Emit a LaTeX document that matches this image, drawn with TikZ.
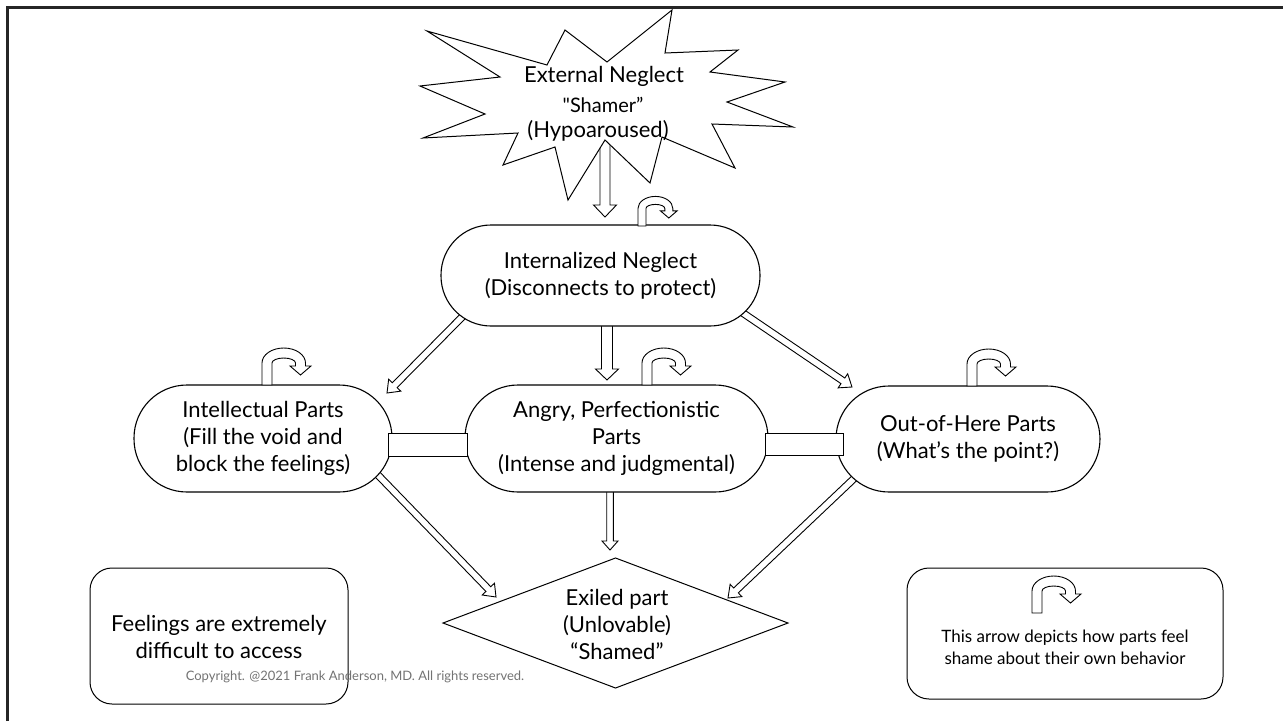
\documentclass[tikz,border=0pt]{standalone}
\usepackage{fontspec}
\setmainfont{Lato}
\newfontfamily\latoraw{Lato}[Ligatures=TeXOff]
\usetikzlibrary{calc}
\newcommand\hollowarrow[5]{%
  \coordinate (hh) at ($(#5)!#3pt!(#4)$);
  \draw[harrow] ($(#4)!#1pt!90:(#5)$) -- ($(hh)!#1pt!90:(#5)$) -- ($(hh)!#2pt!90:(#5)$) -- (#5)
     -- ($(hh)!#2pt!-90:(#5)$) -- ($(hh)!#1pt!-90:(#5)$) -- ($(#4)!#1pt!-90:(#5)$) -- cycle;}
\begin{document}
\begin{tikzpicture}[x=1pt,y=-1pt,
  stad/.style={draw, fill=white, line width=1.1pt, rounded corners=#1, inner sep=0pt, align=center,
     font=\fontsize{22}{27}\selectfont},
  harrow/.style={draw, fill=white, line width=0.9pt, line join=miter},
  bar/.style={draw, fill=white, line width=1pt, inner sep=0pt},
  legendbox/.style={draw, line width=1pt, rounded corners=22pt, inner sep=0pt},
  txt/.style={align=center, inner sep=0pt, font=\fontsize{22}{27}\selectfont},
  uarr/.pic={\draw[fill=white, line width=0.9pt, line join=miter]
     (0,0) -- (0,-22) arc[start angle=180, end angle=360, x radius=21.75, y radius=15]
     -- (43.5,-19) -- (49,-19) -- (38.5,-10) -- (28,-19) -- (33.5,-19) -- (33.5,-22)
     arc[start angle=0, end angle=-180, x radius=11.75, y radius=5] -- (10,0) -- cycle;}
]
\useasboundingbox (0,0) rectangle (1283,721);
\fill[white] (0,0) rectangle (1283,721);
\draw[line width=3pt, black!85] (7,721) -- (7,7) -- (1283,7);

% arrow end points
\coordinate (a1s) at (605,135);  \coordinate (a1e) at (605,217);
\coordinate (a2s) at (469,310);  \coordinate (a2e) at (387,393);
\coordinate (a3s) at (607,318);  \coordinate (a3e) at (607,380);
\coordinate (a4s) at (737,309);  \coordinate (a4e) at (852,387);
\coordinate (a5s) at (376,473);  \coordinate (a5e) at (496,597);
\coordinate (a6s) at (610,485);  \coordinate (a6e) at (610,550);
\coordinate (a7s) at (862,471);  \coordinate (a7e) at (728,598);

\hollowarrow{5}{11.5}{12}{a1s}{a1e}
\hollowarrow{3.4}{8.5}{11}{a2s}{a2e}
\hollowarrow{5.5}{11.5}{11}{a3s}{a3e}
\hollowarrow{3.4}{8.5}{11}{a4s}{a4e}
\hollowarrow{3.4}{8.5}{11}{a5s}{a5e}
\hollowarrow{3.3}{8}{9}{a6s}{a6e}
\hollowarrow{3.4}{8.5}{11}{a7s}{a7e}

% star
\draw[fill=white, line width=1pt, line join=miter]
  (427,31) -- (547,65) -- (565,30) -- (607,62) -- (672,10) -- (665,53) -- (738,50) -- (710,72)
  -- (785,82) -- (727,102) -- (793,127) -- (712,124) -- (735,168) -- (662,137) -- (650,183)
  -- (605,140) -- (568,200) -- (555,147) -- (503,165) -- (518,133) -- (423,138) -- (485,114)
  -- (420,86) -- (500,77) -- cycle;
\node[anchor=base, txt] (ext1) at (604,82) {External Neglect};
\node[anchor=base, inner sep=0pt, font=\fontsize{20}{22}\latoraw] (ext2) at (603,112) {"Shamer”};
\node[anchor=base, txt] (ext3) at (598,137) {(Hypoaroused)};

% main nodes
\node[stad=50pt, minimum width=319pt, minimum height=101pt] (intern) at (600.5,275.5)
  {Internalized Neglect\\(Disconnects to protect)};
\node[stad=53pt, minimum width=258pt, minimum height=107pt] (intel) at (263,438.5)
  {Intellectual Parts\\ (Fill the void and\\block the feelings)};
\node[stad=53pt, minimum width=303pt, minimum height=107pt] (angry) at (616.5,438.5)
  {Angry, Perfectionistic\\Parts\\(Intense and judgmental)};
\node[stad=53pt, minimum width=264pt, minimum height=106pt] (out) at (968,439)
  {Out-of-Here Parts\\(What’s the point?)};

\node[bar, minimum width=79pt, minimum height=23pt] (bar1) at (427.5,444.5) {};
\node[bar, minimum width=78pt, minimum height=22pt] (bar2) at (804,444) {};

% self-shame arrows
\pic[scale=0.8] at (638,226) {uarr};
\pic at (262,385) {uarr};
\pic at (642,385) {uarr};
\pic at (967,386) {uarr};

% exiled diamond
\draw[line width=1pt, line join=miter] (443,623) -- (615.5,558) -- (788,623) -- (615.5,688) -- cycle;
\node[txt] (exiled) at (617,624) {Exiled part\\(Unlovable)\\“Shamed”};

% legend boxes
\node[legendbox, minimum width=258pt, minimum height=136pt] (feelbox) at (219,636) {};
\node[txt] (feel) at (219,637) {Feelings are extremely\\difficult to access};
\node[legendbox, minimum width=316pt, minimum height=131pt] (legend) at (1065,633.5) {};
\pic at (1032,613) {uarr};
\node[align=center, inner sep=0pt, font=\fontsize{17}{22}\selectfont] (legtxt) at (1065,647)
  {This arrow depicts how parts feel\\shame about their own behavior};

\node[inner sep=0pt, text=black!55, font=\fontsize{13}{15}\selectfont] (copy) at (355,677)
  {Copyright. @2021 Frank Anderson, MD. All rights reserved.};
\end{tikzpicture}
\end{document}
